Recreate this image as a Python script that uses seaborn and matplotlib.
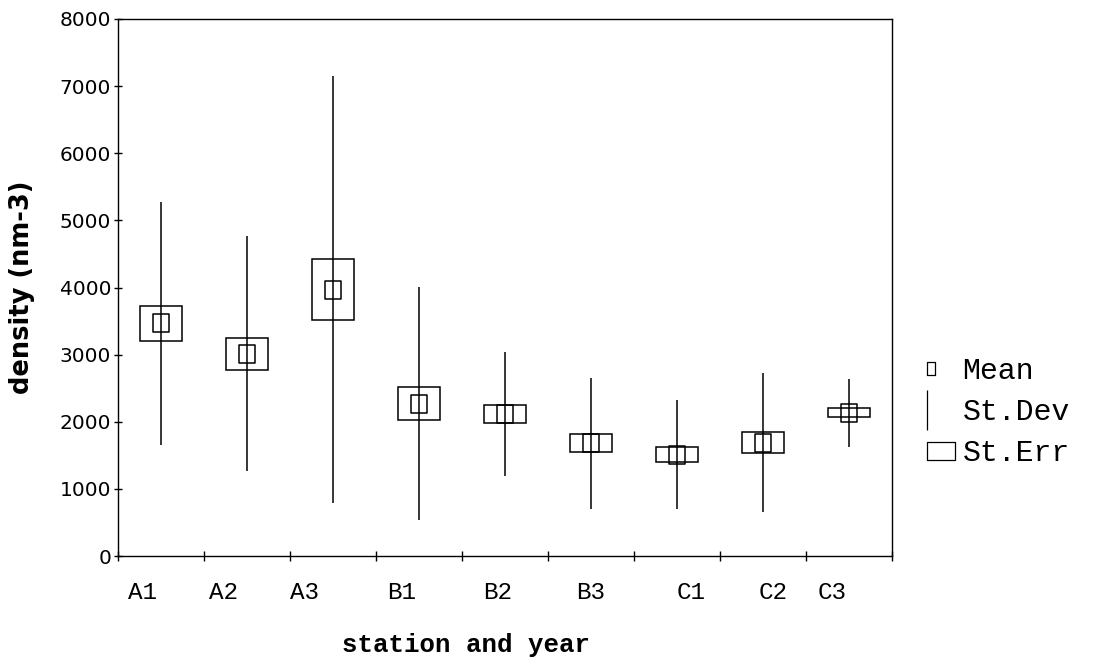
import numpy as np
import pandas as pd
import matplotlib
matplotlib.use("Agg")
import matplotlib.pyplot as plt
from matplotlib.path import Path
from matplotlib.lines import Line2D
from matplotlib.ticker import FixedLocator, NullFormatter
import seaborn as sns

# Density per station and year: mean, standard deviation, standard error
stations = ["A1", "A2", "A3", "B1", "B2", "B3", "C1", "C2", "C3"]
mean_density = [3465, 3015, 3970, 2270, 2115, 1680, 1510, 1690, 2135]
sd_density = [1815, 1745, 3185, 1735, 925, 975, 815, 1040, 505]
se_density = [265, 240, 450, 245, 130, 135, 112, 150, 65]
y_ticks = [0, 1000, 2000, 3000, 4000, 5000, 6000, 7000, 8000]
legend_labels = ["Mean", "St.Dev", "St.Err"]

# horizontal nudge of each station label, in category widths
label_nudge = [-0.21, -0.27, -0.33, -0.20, -0.09, -0.01, 0.17, 0.12, -0.20]

df = pd.DataFrame({
    "station": stations,
    "mean": mean_density,
    "sd": sd_density,
    "se": se_density,
})
df["pos"] = np.arange(len(df))

sns.set_theme(style="ticks", rc={
    "axes.edgecolor": "black",
    "axes.linewidth": 1.0,
    "xtick.color": "black",
    "ytick.color": "black",
    "text.color": "black",
    "axes.labelcolor": "black",
})
plt.rcParams["font.family"] = ["DejaVu Sans"]

W, H = 1093, 666
fig = plt.figure(figsize=(W / 100, H / 100), dpi=100)
ax = fig.add_axes([118 / W, 1 - 556 / H, (892 - 118) / W, (556 - 19) / H])


def rect_path(x0, x1, y0, y1):
    verts = [(x0, y0), (x1, y0), (x1, y1), (x0, y1), (x0, y0)]
    codes = [Path.MOVETO, Path.LINETO, Path.LINETO, Path.LINETO, Path.CLOSEPOLY]
    return Path(verts, codes)


def rect_marker(w, h):
    return rect_path(-w / 2, w / 2, -h / 2, h / 2)


PX = 72 / 100  # points per pixel

# standard deviation lines
ax.vlines(df["pos"], df["mean"] - df["sd"], df["mean"] + df["sd"],
          color="black", linewidth=1.1, zorder=2)

# standard error boxes
ax.bar(df["pos"], 2 * df["se"], bottom=df["mean"] - df["se"], width=0.49,
       fill=False, edgecolor="black", linewidth=1.1, zorder=3)

# mean markers
sns.scatterplot(data=df, x="pos", y="mean", ax=ax, marker=rect_marker(16, 18),
                s=(18 * PX) ** 2, facecolor="none", edgecolor="black",
                linewidth=1.1, zorder=4, legend=False)

# axes, ticks and labels
ax.set_xlim(-0.5, len(stations) - 0.5)
ax.set_ylim(0, 8000)
ax.xaxis.set_major_locator(FixedLocator(np.arange(-0.5, len(stations), 1.0)))
ax.xaxis.set_major_formatter(NullFormatter())
ax.xaxis.set_minor_locator(FixedLocator(df["pos"].to_numpy() + np.array(label_nudge)))
ax.set_xticklabels(stations, minor=True)
ax.tick_params(axis="x", which="major", direction="inout", length=7, width=1.0)
ax.tick_params(axis="x", which="minor", length=0, pad=18, labelsize=17.5)
for lab in ax.get_xticklabels(minor=True):
    lab.set_fontfamily("Liberation Mono")

ax.set_yticks(y_ticks)
ax.tick_params(axis="y", direction="inout", length=6, width=1.0, pad=2, labelsize=14.5)

ax.set_xlabel("station and year", fontfamily="Liberation Mono", fontweight="bold",
              fontsize=18.5)
ax.xaxis.set_label_coords((466 - 118) / (892 - 118), -(633 - 556) / (556 - 19))
ax.set_ylabel("density (nm-3)", fontfamily="DejaVu Sans", fontweight="heavy",
              fontsize=18.5)
ax.yaxis.set_label_coords(-(118 - 35) / (892 - 118), 0.5)

for side in ["top", "right", "bottom", "left"]:
    ax.spines[side].set_visible(True)
    ax.spines[side].set_color("black")
    ax.spines[side].set_linewidth(1.0)

# legend keys, all left-aligned on the same edge (box of 28 px width)
mean_key = rect_path(-14, -6, -6.5, 6.5)
sd_key = Path([(-14, -20), (-14, 20)], [Path.MOVETO, Path.LINETO])
se_key = rect_marker(28, 18)
mean_h = Line2D([], [], linestyle="none", marker=mean_key,
                markersize=28 * PX, markerfacecolor="none",
                markeredgecolor="black", markeredgewidth=0.9)
sd_h = Line2D([], [], linestyle="none", marker=sd_key, markersize=40 * PX,
              markerfacecolor="none", markeredgecolor="black",
              markeredgewidth=0.9)
se_h = Line2D([], [], linestyle="none", marker=se_key,
              markersize=28 * PX, markerfacecolor="none",
              markeredgecolor="black", markeredgewidth=0.9)
ax.legend([mean_h, sd_h, se_h], legend_labels, loc="center left",
          bbox_to_anchor=(926 / W, 1 - 412 / H), bbox_transform=fig.transFigure,
          frameon=False, prop={"family": "Liberation Mono", "size": 21.5},
          handlelength=1.0, handletextpad=0.22, labelspacing=0.45,
          borderpad=0, borderaxespad=0)

fig.savefig("out.png", dpi=100, facecolor="white")
